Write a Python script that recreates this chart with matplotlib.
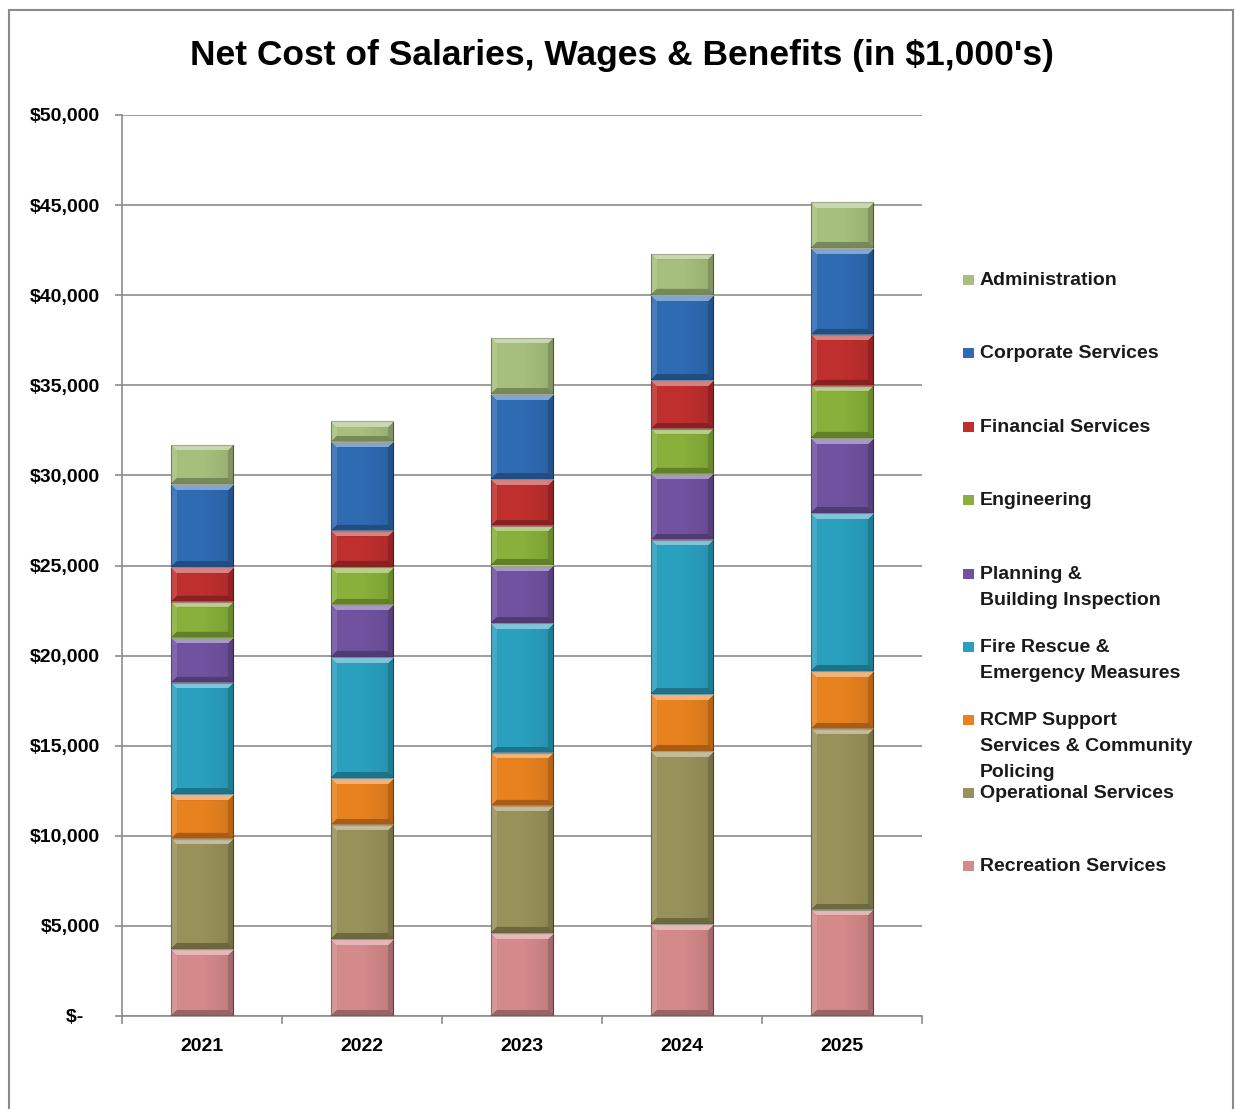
import matplotlib
matplotlib.use("Agg")
import matplotlib.pyplot as plt
import matplotlib.patches as mpatches
import numpy as np
from matplotlib.colors import to_rgb
from matplotlib.ticker import FixedLocator

years = ["2021", "2022", "2023", "2024", "2025"]

# stacked bottom -> top
departments = [
    "Recreation Services",
    "Operational Services",
    "RCMP Support\nServices & Community\nPolicing",
    "Fire Rescue &\nEmergency Measures",
    "Planning &\nBuilding Inspection",
    "Engineering",
    "Financial Services",
    "Corporate Services",
    "Administration",
]
recreation = [3700, 4250, 4600, 5100, 5900]
operational = [6150, 6350, 7050, 9600, 10050]
rcmp = [2450, 2600, 2950, 3150, 3200]
fire_rescue = [6200, 6700, 7200, 8550, 8750]
planning = [2500, 2900, 3200, 3700, 4150]
engineering = [2000, 2100, 2200, 2500, 2900]
financial = [1900, 2000, 2600, 2700, 2850]
corporate = [4600, 4950, 4700, 4700, 4800]
administration = [2200, 1150, 3150, 2300, 2550]
series = [recreation, operational, rcmp, fire_rescue, planning,
          engineering, financial, corporate, administration]

colors = ["#D4898A", "#99915A", "#E8821F", "#2AA0BF", "#7152A0",
          "#88B03A", "#BE2F2E", "#2E6BB3", "#A6BF7C"]

y_ticks = [0, 5000, 10000, 15000, 20000, 25000, 30000, 35000, 40000, 45000, 50000]
y_labels = ["$-   ", "$5,000", "$10,000", "$15,000", "$20,000", "$25,000",
            "$30,000", "$35,000", "$40,000", "$45,000", "$50,000"]

NARROW = ["Liberation Sans Narrow", "Liberation Sans", "DejaVu Sans"]
SANS = ["Liberation Sans", "DejaVu Sans"]
W, H = 1235, 1109


def bevel_overlay(ax, patch, b=6):
    """Paint a bevelled-button shading over one bar segment."""
    x0, y0 = patch.get_x(), patch.get_y()
    w, h = patch.get_width(), patch.get_height()
    p0 = ax.transData.transform((x0, y0))
    p1 = ax.transData.transform((x0 + w, y0 + h))
    wp, hp = max(int(round(p1[0] - p0[0])), 2), max(int(round(p1[1] - p0[1])), 2)
    r, c = np.mgrid[0:hp, 0:wp]
    top, bot, left, right = r, hp - 1 - r, c, wp - 1 - c
    near = np.minimum(np.minimum(top, bot), np.minimum(left, right))
    img = np.zeros((hp, wp, 4))
    inside = near < b
    top_face = inside & (top == near)
    bot_face = inside & (bot == near) & ~top_face
    left_face = inside & (left == near) & ~top_face & ~bot_face
    right_face = inside & (right == near) & ~top_face & ~bot_face & ~left_face
    img[top_face] = [1, 1, 1, 0.40]
    img[left_face] = [1, 1, 1, 0.12]
    img[right_face] = [0, 0, 0, 0.22]
    img[bot_face] = [0, 0, 0, 0.28]
    # soft horizontal shading across the face
    shade = np.clip((c / max(wp - 1, 1) - 0.5), 0, None) * 0.18
    face = ~inside
    img[face, 3] = shade[face]
    ax.imshow(img, extent=(x0, x0 + w, y0, y0 + h), origin="upper",
              aspect="auto", zorder=3, interpolation="bilinear")


fig = plt.figure(figsize=(W / 100, H / 100), dpi=100)
fig.patch.set_facecolor("white")

# outer chart frame
fig.add_artist(mpatches.Rectangle((9 / W, -0.05), (1233 - 9) / W, 1.05 - 10 / H,
                                  transform=fig.transFigure, fill=False,
                                  edgecolor="#8a8a8a", lw=1.5))

ax = fig.add_axes([122 / W, 93 / H, 800 / W, 901 / H])
ax.set_xlim(-0.5, len(years) - 0.5)
ax.set_ylim(0, 50000)

x = np.arange(len(years))
bottom = np.zeros(len(years))
all_patches = []
for vals, col in zip(series, colors):
    rgb = np.array(to_rgb(col))
    bars = ax.bar(x, vals, 0.39, bottom=bottom, color=col,
                  edgecolor=tuple(rgb * 0.6), linewidth=0.8, zorder=2)
    bottom += np.array(vals)
    all_patches.extend(bars.patches)

ax.set_xlim(-0.5, len(years) - 0.5)
ax.set_ylim(0, 50000)
for p in all_patches:
    bevel_overlay(ax, p)
ax.set_xlim(-0.5, len(years) - 0.5)
ax.set_ylim(0, 50000)

ax.yaxis.set_major_locator(FixedLocator(y_ticks))
ax.set_yticklabels(y_labels, fontfamily=NARROW, fontweight="bold", fontsize=14)
ax.tick_params(axis="y", length=5, width=1.2, color="#8c8c8c", pad=11)
ax.grid(axis="y", color="#8c8c8c", lw=1.2, zorder=0)
ax.set_axisbelow(True)

ax.set_xticks(x)
ax.set_xticklabels(years, fontfamily=NARROW, fontweight="bold", fontsize=14)
ax.xaxis.set_minor_locator(FixedLocator(np.arange(-0.5, len(years), 1.0)))
ax.tick_params(axis="x", which="major", length=0, pad=16)
ax.tick_params(axis="x", which="minor", length=6, width=1.2, color="#8c8c8c")

for s in ("top", "right"):
    ax.spines[s].set_visible(False)
for s in ("left", "bottom"):
    ax.spines[s].set_color("#8c8c8c")
    ax.spines[s].set_linewidth(1.2)

fig.text(622 / W, 1 - 56 / H, "Net Cost of Salaries, Wages & Benefits (in $1,000's)",
         ha="center", va="center", fontsize=25.5, fontweight="bold",
         fontfamily=NARROW)

# legend, top entry first
legend_y = [280, 353, 427, 500, 574, 647, 720, 793, 866]
legend_order = list(range(len(departments)))[::-1]
for yy, idx in zip(legend_y, legend_order):
    fig.add_artist(mpatches.Rectangle((963 / W, 1 - (yy + 5) / H), 11 / W, 10 / H,
                                      transform=fig.transFigure,
                                      facecolor=colors[idx], edgecolor="none"))
    fig.text(980 / W, 1 - (yy - 8) / H, departments[idx], ha="left", va="top",
             fontsize=14, fontweight="bold", fontfamily=SANS,
             linespacing=1.7, color="#1a1a1a")

fig.savefig("out.png", dpi=100, facecolor="white")
